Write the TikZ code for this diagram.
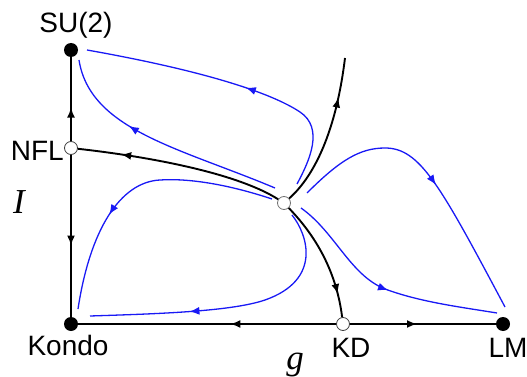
\documentclass[tikz,border=0pt]{standalone}
\usepackage{fontspec}
\setmainfont{Liberation Sans}
\newfontfamily\serifit{Liberation Serif}
\usetikzlibrary{arrows.meta,decorations.markings}
\definecolor{flowblue}{RGB}{25,25,245}
\tikzset{
  fixed/.style={circle, fill=black, inner sep=0pt, minimum size=14pt},
  openfp/.style={circle, draw=black!75, fill=white, line width=0.8pt, inner sep=0pt, minimum size=13pt},
  lbl/.style={font=\fontsize{28}{30}\selectfont, anchor=base, inner sep=0pt},
  ital/.style={font=\fontsize{35}{37}\serifit\itshape, anchor=base, inner sep=0pt},
  sep/.style={black, line width=1.9pt},
  flow/.style={flowblue, line width=1.3pt},
  midarrow/.style={postaction={decorate}, decoration={markings, mark=at position #1 with {\arrow{Latex[length=10pt,width=8pt]}}}},
}
\begin{document}
\begin{tikzpicture}[x=1pt, y=-1pt]
\useasboundingbox (0,0) rectangle (527,377);
% fixed points
\node[fixed] (SU) at (71,50) {};
\node[openfp] (NFL) at (71,148) {};
\node[fixed] (Ko) at (71,324) {};
\node[openfp] (KD) at (343,324) {};
\node[fixed] (LM) at (503,324) {};
\coordinate (top) at (345,58);
% axes
\draw[sep, midarrow=0.4] (NFL) -- (SU);
\draw[sep, midarrow=0.56] (NFL) -- (Ko);
\draw[sep, midarrow=0.41] (KD) -- (Ko);
\draw[sep, midarrow=0.46] (KD) -- (LM);
% blue flows
\coordinate (b1s) at (297,184); \coordinate (b1e) at (87,50);
\coordinate (b2s) at (275,188); \coordinate (b2e) at (79,60);
\coordinate (b3s) at (272,199); \coordinate (b3e) at (78,309);
\coordinate (b4s) at (292,215); \coordinate (b4e) at (90,316);
\coordinate (b5s) at (301,208); \coordinate (b5e) at (497,313);
\coordinate (b6s) at (307,193); \coordinate (b6e) at (505,307);
\draw[flow, midarrow=0.46] (b1s) .. controls (310,160) and (324,128) .. (300,112) .. controls (270,92) and (200,70) .. (b1e);
\draw[flow, midarrow=0.65] (b2s) .. controls (180,148) and (90,130) .. (b2e);
\draw[flow, midarrow=0.64] (b3s) .. controls (230,185) and (190,178) .. (160,180) .. controls (120,182) and (90,230) .. (b3e);
\draw[flow, midarrow=0.65] (b4s) .. controls (308,235) and (322,280) .. (265,300) .. controls (230,312) and (150,314) .. (b4e);
\draw[flow, midarrow=0.52] (b5s) .. controls (335,232) and (350,275) .. (385,289) .. controls (420,302) and (460,307) .. (b5e);
\draw[flow, midarrow=0.53] (b6s) .. controls (340,160) and (360,148) .. (385,148) .. controls (420,148) and (440,185) .. (b6e);
% central fixed point and separatrices
\node[openfp, draw=black!55] (C) at (284,203) {};
\draw[sep, midarrow=0.79] (C) .. controls (240,175) and (160,158) .. (NFL);
\draw[sep, midarrow=0.74] (C) .. controls (310,180) and (335,140) .. (top);
\draw[sep, midarrow=0.81] (C) .. controls (305,225) and (335,260) .. (KD);
% labels
\node[lbl] (lSU) at (76,33) {SU(2)};
\node[lbl, anchor=base east] (lNFL) at (64,160) {NFL};
\node[lbl] (lKo) at (68,355) {Kondo};
\node[lbl] (lKD) at (351,357) {KD};
\node[lbl] (lLM) at (508,357) {LM};
\node[ital] (lI) at (19,213) {I};
\node[ital] (lg) at (295,369) {g};
\end{tikzpicture}
\end{document}
